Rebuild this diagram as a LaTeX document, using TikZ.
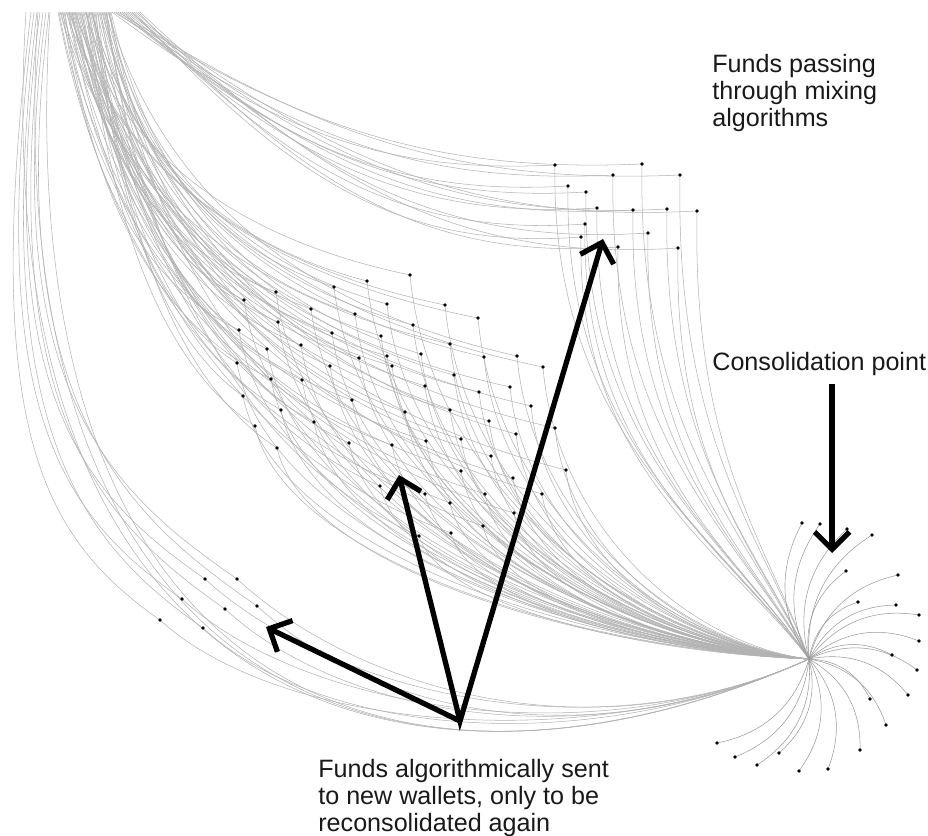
\documentclass[tikz,border=0pt]{standalone}
\usepackage{fontspec}
\setmainfont{Liberation Sans}
\usetikzlibrary{arrows.meta}
\begin{document}
\begin{tikzpicture}[x=0.02cm,y=-0.02cm,
  wire/.style={black!30,line width=0.3pt},
  spoke/.style={black!40,line width=0.3pt},
  dot/.style={circle,fill=black,inner sep=0pt,minimum size=2.1pt},
  bigarrow/.style={line width=3pt,black,line join=miter},
  barb/.style={-{Straight Barb[angle=90:14pt]}},
  txtlbl/.style={anchor=base west,inner sep=0pt,font=\fontsize{14.3}{15.6}\selectfont,text=black!90}]
\useasboundingbox (0,0) rectangle (928,835);
\coordinate (E) at (809,659);

% ---------- cluster near top right (mixing) ----------
\foreach \x/\y [count=\i] in {555/165,642/164,613/175,680/175,568/186,586/192,597/208,633/210,667/209,697/211,585/224,581/237,648/233,618/247,678/248}{
  \coordinate (c\i) at (\x,\y);
  \pgfmathsetmacro\sx{110+2*\i}
  \coordinate (sc\i) at (\sx,12);
  \pgfmathsetmacro\ax{0.35*(\x-\sx)}
  \pgfmathsetmacro\ay{0.75*(\y-12)}
  \pgfmathsetmacro\bx{-0.4*(\x-\sx)}
  \pgfmathsetmacro\by{0.06*(\y-12)}
  \draw[wire] (sc\i) .. controls +(\ax,\ay) and +(\bx,\by) .. (c\i);
  \pgfmathsetmacro\ey{0.55*(659-\y)}
  \pgfmathsetmacro\fx{-0.35*(809-\x)}
  \pgfmathsetmacro\fy{-0.25*(659-\y)}
  \draw[wire] (c\i) .. controls +(-5,\ey) and +(\fx,\fy) .. (E);
}

% ---------- main grid of wallets ----------
\foreach \x/\y [count=\i] in {410/275,367/281,334/287,276/292,244/300,387/304,445/305,311/309,355/314,478/318,278/322,413/325,239/330,332/333,381/336,450/344,301/345,267/349,421/354,387/356,484/357,517/356,359/358,237/363,330/366,392/366,543/367,454/375,271/379,302/380,425/386,510/387,479/392,243/396,352/400,531/406,281/410,405/412,450/410,489/421,314/422,555/428,255/426,516/434,426/441,461/439,349/443,392/445,491/456,277/448,461/471,513/478,380/486,425/494,485/494,542/494,450/503,514/513,483/526,419/536,451/533,566/470}{
  \coordinate (g\i) at (\x,\y);
  \pgfmathsetmacro\sx{58+mod(\i*17,54)}
  \coordinate (sg\i) at (\sx,12);
  \pgfmathsetmacro\ax{0.15*(\x-\sx)}
  \pgfmathsetmacro\ay{0.6*(\y-12)}
  \pgfmathsetmacro\bx{-0.45*(\x-\sx)}
  \pgfmathsetmacro\by{-0.12*(\y-12)}
  \draw[wire] (sg\i) .. controls +(\ax,\ay) and +(\bx,\by) .. (g\i);
  \pgfmathsetmacro\ex{0.05*(809-\x)}
  \pgfmathsetmacro\ey{0.55*(659-\y)}
  \pgfmathsetmacro\fx{-0.45*(809-\x)}
  \pgfmathsetmacro\fy{-0.05*(659-\y)}
  \draw[wire] (g\i) .. controls +(\ex,\ey) and +(\fx,\fy) .. (E);
}

% ---------- lower left wallets ----------
\foreach \x/\y [count=\i] in {160/620,182/599,203/628,205/579,225/609,237/579,257/606}{
  \coordinate (b\i) at (\x,\y);
  \pgfmathsetmacro\sx{28+3*\i}
  \coordinate (sb\i) at (\sx,12);
  \pgfmathsetmacro\ay{0.68*(\y-12)}
  \draw[wire] (sb\i) .. controls +(-50,\ay) and +(-120,-84) .. (b\i);
  \draw[wire] (b\i) .. controls +(120,110) and +(-220,100) .. (E);
}

% ---------- direct long arcs ----------
\foreach \sx [count=\i] in {26,38,50}{
  \coordinate (sd\i) at (\sx,12);
  \draw[wire] (sd\i) .. controls +(-45,720) and +(-380,170) .. (E);
}

% ---------- consolidation spokes ----------
\foreach \x/\y [count=\i] in {802/523,820/524,847/529,872/535,846/571,898/575,858/602,896/605,919/615,919/641,892/655,917/670,908/695,870/699,886/725,860/750,828/769,799/771,779/753,757/765,735/757,717/743}{
  \coordinate (k\i) at (\x,\y);
  \pgfmathsetmacro\vx{\x-809}
  \pgfmathsetmacro\vy{\y-659}
  \pgfmathsetmacro\ax{\vx/3+0.2*\vy}
  \pgfmathsetmacro\ay{\vy/3-0.2*\vx}
  \pgfmathsetmacro\bx{-\vx/3+0.2*\vy}
  \pgfmathsetmacro\by{-\vy/3-0.2*\vx}
  \draw[spoke] (E) .. controls +(\ax,\ay) and +(\bx,\by) .. (k\i);
}

% ---------- dots ----------
\foreach \i in {1,...,15}{\node[dot] (dc\i) at (c\i) {};}
\foreach \i in {1,...,62}{\node[dot] (dg\i) at (g\i) {};}
\foreach \i in {1,...,7}{\node[dot] (db\i) at (b\i) {};}
\foreach \i in {1,...,22}{\node[dot] (dk\i) at (k\i) {};}

% ---------- arrows ----------
\coordinate (V) at (460,721);
\coordinate (tL) at (266,627);
\coordinate (tM) at (399,475);
\coordinate (tR) at (603,239);
\coordinate (cTop) at (832,384);
\coordinate (cTip) at (832,553);
\draw[bigarrow,{Straight Barb[angle=90:14pt]}-{Straight Barb[angle=90:14pt]}] (tM) -- (V) -- (tR);
\draw[bigarrow,barb] (V) -- (tL);
\draw[bigarrow,barb] (cTop) -- (cTip);

% ---------- texts ----------
\node[txtlbl] (tmix) at (712,72) {\begin{tabular}[t]{@{}l@{}}Funds passing\\through mixing\\algorithms\end{tabular}};
\node[txtlbl] (tcons) at (712,370) {Consolidation point};
\node[txtlbl] (twal) at (318,777) {\begin{tabular}[t]{@{}l@{}}Funds algorithmically sent\\to new wallets, only to be\\reconsolidated again\end{tabular}};
\end{tikzpicture}
\end{document}
